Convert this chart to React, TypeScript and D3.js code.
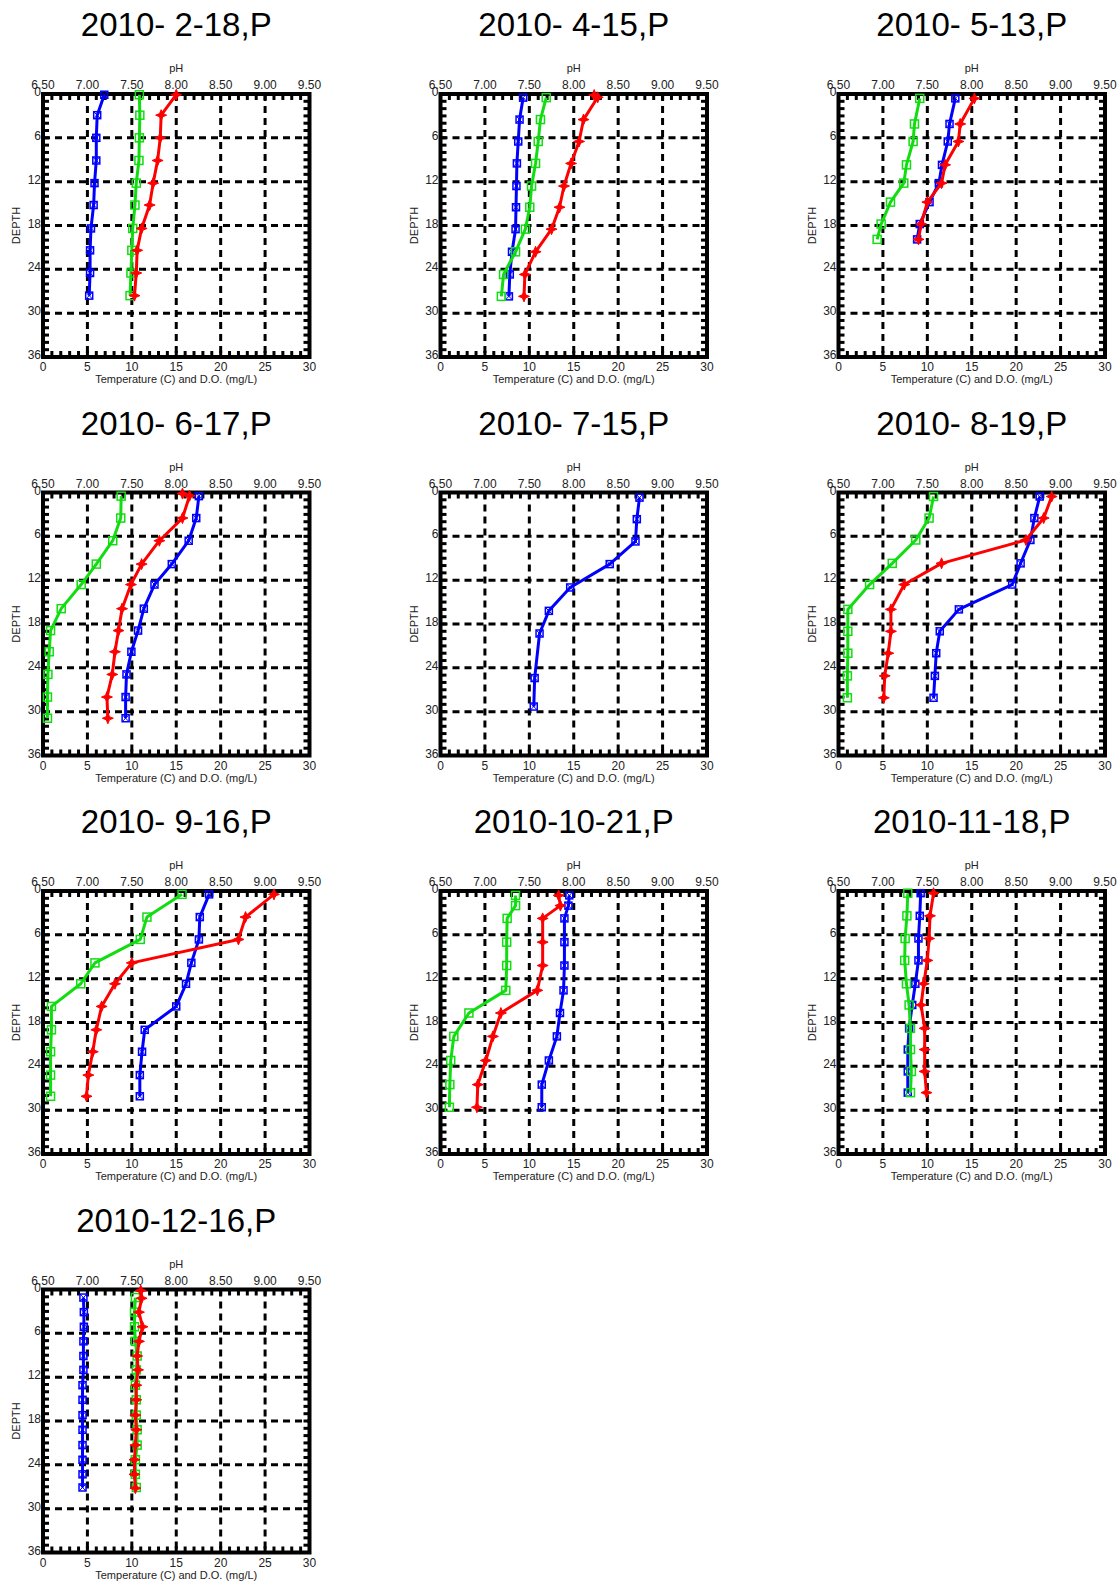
import React from "react";
import * as d3 from "d3";

// ---------- DATA ----------
const titles = [
  "2010- 2-18,P", "2010- 4-15,P", "2010- 5-13,P",
  "2010- 6-17,P", "2010- 7-15,P", "2010- 8-19,P",
  "2010- 9-16,P", "2010-10-21,P", "2010-11-18,P",
  "2010-12-16,P",
];

const tempTicks = [0, 5, 10, 15, 20, 25, 30];
const phTicks = [6.5, 7.0, 7.5, 8.0, 8.5, 9.0, 9.5];
const depthTicks = [0, 6, 12, 18, 24, 30, 36];

// 2010-2-18
const feb_depth = [0.1, 2.9, 6.0, 9.1, 12.2, 15.2, 18.4, 21.4, 24.5, 27.6];
const feb_temp = [6.9, 6.1, 6.0, 6.0, 5.8, 5.7, 5.4, 5.3, 5.3, 5.2];
const feb_do = [10.85, 10.9, 10.85, 10.8, 10.5, 10.35, 10.1, 10.0, 9.9, 9.8];
const feb_ph = [8.0, 7.83, 7.82, 7.79, 7.74, 7.7, 7.61, 7.56, 7.55, 7.53];

// 2010-4-15
const apr_depth = [0.5, 3.5, 6.5, 9.5, 12.6, 15.5, 18.5, 21.6, 24.7, 27.7];
const apr_temp = [9.3, 8.9, 8.75, 8.6, 8.55, 8.5, 8.45, 8.05, 7.8, 7.7];
const apr_do = [11.9, 11.25, 11.0, 10.7, 10.25, 10.05, 9.55, 8.45, 7.1, 6.85];
const apr_ph_depth = [0.15, 0.45, 3.5, 6.5, 9.5, 12.6, 15.5, 18.5, 21.6, 24.7, 27.7];
const apr_ph = [8.23, 8.27, 8.11, 8.06, 7.97, 7.89, 7.84, 7.75, 7.57, 7.45, 7.44];

// 2010-5-13
const may_depth = [0.6, 4.1, 6.5, 9.7, 12.2, 14.8, 17.8, 19.9];
const may_temp = [13.15, 12.5, 12.3, 11.65, 11.3, 10.25, 9.15, 8.85];
const may_do = [9.15, 8.55, 8.4, 7.65, 7.35, 5.85, 4.8, 4.35];
const may_ph = [8.03, 7.87, 7.85, 7.7, 7.66, 7.5, 7.43, 7.4];

// 2010-6-17
const jun_depth = [0.5, 3.5, 6.6, 9.8, 12.6, 15.9, 18.9, 21.8, 24.9, 28.0, 30.9];
const jun_temp = [17.55, 17.25, 16.4, 14.5, 12.55, 11.35, 10.7, 9.95, 9.4, 9.3, 9.3];
const jun_do = [8.8, 8.75, 7.85, 6.0, 4.3, 2.05, 0.85, 0.7, 0.55, 0.5, 0.5];
const jun_ph_depth = [0.15, 0.45, 3.5, 6.6, 9.8, 12.6, 15.9, 18.9, 21.8, 24.9, 28.0, 30.9];
const jun_ph = [8.07, 8.15, 8.07, 7.81, 7.61, 7.49, 7.39, 7.35, 7.31, 7.28, 7.22, 7.23];

// 2010-7-15 (temperature only)
const jul_depth = [0.7, 3.65, 6.7, 9.8, 13.0, 16.2, 19.3, 25.4, 29.3];
const jul_temp = [22.4, 22.1, 21.95, 19.05, 14.6, 12.2, 11.15, 10.6, 10.5];

// 2010-8-19
const aug_depth = [0.55, 3.5, 6.5, 9.7, 12.6, 16.0, 19.0, 22.0, 25.1, 28.1];
const aug_temp = [22.65, 22.05, 21.6, 20.5, 19.55, 13.55, 11.4, 11.0, 10.85, 10.7];
const aug_do = [10.7, 10.2, 8.7, 6.05, 3.5, 1.05, 1.05, 1.05, 1.0, 1.0];
const aug_ph = [8.9, 8.81, 8.61, 7.66, 7.24, 7.09, 7.09, 7.06, 7.02, 7.01];

// 2010-9-16
const sep_depth = [0.46, 3.57, 6.63, 9.84, 12.7, 15.8, 19.0, 22.0, 25.2, 28.1];
const sep_temp = [18.7, 17.65, 17.55, 16.7, 16.1, 15.0, 11.45, 11.15, 10.9, 10.9];
const sep_do = [15.65, 11.7, 10.95, 5.85, 4.25, 0.95, 0.95, 0.85, 0.85, 0.85];
const sep_ph = [9.1, 8.78, 8.7, 7.5, 7.31, 7.16, 7.1, 7.06, 7.01, 6.99];

// 2010-10-21
const oct_depth = [0.6, 2.0, 3.75, 7.0, 10.2, 13.6, 16.7, 19.9, 23.2, 26.5, 29.6];
const oct_temp = [14.5, 14.4, 13.95, 13.95, 13.95, 13.85, 13.45, 13.1, 12.2, 11.4, 11.4];
const oct_do = [8.45, 8.45, 7.5, 7.45, 7.45, 7.35, 3.2, 1.5, 1.15, 1.05, 1.0];
const oct_ph = [7.83, 7.85, 7.65, 7.65, 7.65, 7.59, 7.18, 7.09, 7.01, 6.92, 6.91];

// 2010-11-18
const nov_depth = [0.3, 3.4, 6.5, 9.5, 12.7, 15.6, 18.8, 21.7, 24.7, 27.6];
const nov_temp = [9.25, 9.15, 9.0, 9.0, 8.65, 8.3, 7.95, 7.8, 7.8, 7.8];
const nov_do = [7.8, 7.7, 7.5, 7.45, 7.65, 7.95, 8.1, 8.1, 8.2, 8.1];
const nov_ph = [7.57, 7.53, 7.52, 7.5, 7.46, 7.43, 7.47, 7.47, 7.47, 7.49];

// 2010-12-16
const dec_depth = [1.1, 3.1, 5.1, 7.1, 9.1, 11.0, 13.1, 15.1, 17.2, 19.2, 21.3, 23.3, 25.3, 27.1];
const dec_temp = [4.55, 4.6, 4.6, 4.55, 4.55, 4.55, 4.45, 4.45, 4.45, 4.45, 4.45, 4.45, 4.45, 4.45];
const dec_do = [10.4, 10.3, 10.3, 10.4, 10.6, 10.5, 10.4, 10.5, 10.5, 10.6, 10.6, 10.4, 10.4, 10.5];
const dec_ph_depth = [0.15, 1.2, 3.1, 5.1, 7.1, 9.1, 11.0, 13.1, 15.1, 17.2, 19.2, 21.3, 23.3, 25.3, 27.2];
const dec_ph = [7.6, 7.61, 7.58, 7.62, 7.58, 7.56, 7.57, 7.55, 7.55, 7.54, 7.55, 7.54, 7.53, 7.53, 7.54];

type Series = { depth: number[]; values: number[] } | null;
type Panel = { title: string; temp: Series; dO: Series; ph: Series };

const panels: Panel[] = [
  { title: titles[0], temp: { depth: feb_depth, values: feb_temp }, dO: { depth: feb_depth, values: feb_do }, ph: { depth: feb_depth, values: feb_ph } },
  { title: titles[1], temp: { depth: apr_depth, values: apr_temp }, dO: { depth: apr_depth, values: apr_do }, ph: { depth: apr_ph_depth, values: apr_ph } },
  { title: titles[2], temp: { depth: may_depth, values: may_temp }, dO: { depth: may_depth, values: may_do }, ph: { depth: may_depth, values: may_ph } },
  { title: titles[3], temp: { depth: jun_depth, values: jun_temp }, dO: { depth: jun_depth, values: jun_do }, ph: { depth: jun_ph_depth, values: jun_ph } },
  { title: titles[4], temp: { depth: jul_depth, values: jul_temp }, dO: null, ph: null },
  { title: titles[5], temp: { depth: aug_depth, values: aug_temp }, dO: { depth: aug_depth, values: aug_do }, ph: { depth: aug_depth, values: aug_ph } },
  { title: titles[6], temp: { depth: sep_depth, values: sep_temp }, dO: { depth: sep_depth, values: sep_do }, ph: { depth: sep_depth, values: sep_ph } },
  { title: titles[7], temp: { depth: oct_depth, values: oct_temp }, dO: { depth: oct_depth, values: oct_do }, ph: { depth: oct_depth, values: oct_ph } },
  { title: titles[8], temp: { depth: nov_depth, values: nov_temp }, dO: { depth: nov_depth, values: nov_do }, ph: { depth: nov_depth, values: nov_ph } },
  { title: titles[9], temp: { depth: dec_depth, values: dec_temp }, dO: { depth: dec_depth, values: dec_do }, ph: { depth: dec_ph_depth, values: dec_ph } },
];

// ---------- LAYOUT ----------
const COL_X = [43, 440.5, 838.5];
const ROW_Y = [94, 492.5, 891, 1289.5];
const PW = 266.5;
const PH = 263;
const FONT = "'Liberation Sans', Arial, Helvetica, sans-serif";
const BLUE = "#0000ff";
const GREEN = "#11dd11";
const RED = "#ff0000";

const starPath = "M0,-5.5 L1.6,-1.6 L5.5,0 L1.6,1.6 L0,5.5 L-1.6,1.6 L-5.5,0 L-1.6,-1.6 Z";

function PanelChart({ p, left, top }: { p: Panel; left: number; top: number }) {
  const x = d3.scaleLinear().domain([0, 30]).range([left, left + PW]);
  const xPh = d3.scaleLinear().domain([6.5, 9.5]).range([left, left + PW]);
  const y = d3.scaleLinear().domain([0, 36]).range([top, top + PH]);
  const fmtPh = d3.format(".2f");
  const minorX = d3.range(1, 30);
  const minorY = d3.range(1, 36);
  const tl = 6;

  const line = (sx: (v: number) => number, s: NonNullable<Series>) =>
    d3.line<number>().x((v) => sx(v)).y((_, i) => y(s.depth[i]))(s.values) || "";

  const grid: React.ReactNode[] = [];
  tempTicks.slice(1, -1).forEach((t) =>
    grid.push(<line key={"gx" + t} x1={x(t)} x2={x(t)} y1={top} y2={top + PH} stroke="#000" strokeWidth={3} strokeDasharray="7,5" />)
  );
  depthTicks.slice(1, -1).forEach((t) =>
    grid.push(<line key={"gy" + t} x1={left} x2={left + PW} y1={y(t)} y2={y(t)} stroke="#000" strokeWidth={3} strokeDasharray="7,5" />)
  );

  const ticks: React.ReactNode[] = [];
  minorX.forEach((t) => {
    ticks.push(<line key={"tt" + t} x1={x(t)} x2={x(t)} y1={top} y2={top + tl} stroke="#000" strokeWidth={3} />);
    ticks.push(<line key={"tb" + t} x1={x(t)} x2={x(t)} y1={top + PH} y2={top + PH - tl} stroke="#000" strokeWidth={3} />);
  });
  minorY.forEach((t) => {
    ticks.push(<line key={"tl" + t} x1={left} x2={left + tl} y1={y(t)} y2={y(t)} stroke="#000" strokeWidth={3} />);
    ticks.push(<line key={"tr" + t} x1={left + PW} x2={left + PW - tl} y1={y(t)} y2={y(t)} stroke="#000" strokeWidth={3} />);
  });

  const cx = left + PW / 2;

  return (
    <g>
      <text x={cx} y={top - 58} textAnchor="middle" fontSize={33} fontFamily={FONT} fill="#000" style={{ whiteSpace: "pre" }}>
        {p.title}
      </text>
      <text x={cx} y={top - 22} textAnchor="middle" fontSize={11} fontFamily={FONT} fill="#222">pH</text>
      {phTicks.map((t) => (
        <text key={"ph" + t} x={xPh(t)} y={top - 5} textAnchor="middle" fontSize={12} fontFamily={FONT} fill="#222">{fmtPh(t)}</text>
      ))}
      {tempTicks.map((t) => (
        <text key={"xt" + t} x={x(t)} y={top + PH + 14} textAnchor="middle" fontSize={12} fontFamily={FONT} fill="#222">{t}</text>
      ))}
      <text x={cx} y={top + PH + 26} textAnchor="middle" fontSize={11} fontFamily={FONT} fill="#222">Temperature (C) and D.O. (mg/L)</text>
      {depthTicks.map((t) => (
        <text key={"yt" + t} x={left - 2} y={y(t) + 2} textAnchor="end" fontSize={12} fontFamily={FONT} fill="#222">{t}</text>
      ))}
      <text transform={`translate(${left - 23},${top + PH / 2}) rotate(-90)`} textAnchor="middle" fontSize={11} fontFamily={FONT} fill="#222">DEPTH</text>

      {grid}
      {ticks}
      <rect x={left} y={top} width={PW} height={PH} fill="none" stroke="#000" strokeWidth={4} />

      {p.temp && (
        <g>
          <path d={line(x, p.temp)} fill="none" stroke={BLUE} strokeWidth={3} strokeLinejoin="round" />
          {p.temp.values.map((v, i) => {
            const px = x(v), py = y(p.temp!.depth[i]);
            return (
              <g key={"bm" + i} transform={`translate(${px},${py})`}>
                <rect x={-3.5} y={-3.5} width={7} height={7} fill="none" stroke={BLUE} strokeWidth={1.5} />
                <path d="M-3.5,-3.5 L3.5,3.5 M3.5,-3.5 L-3.5,3.5" stroke={BLUE} strokeWidth={1} />
              </g>
            );
          })}
        </g>
      )}
      {p.dO && (
        <g>
          <path d={line(x, p.dO)} fill="none" stroke={GREEN} strokeWidth={3} strokeLinejoin="round" />
          {p.dO.values.map((v, i) => (
            <rect key={"gm" + i} x={x(v) - 4} y={y(p.dO!.depth[i]) - 4} width={8} height={8} fill="none" stroke={GREEN} strokeWidth={1.5} />
          ))}
        </g>
      )}
      {p.ph && (
        <g>
          <path d={line(xPh, p.ph)} fill="none" stroke={RED} strokeWidth={3} strokeLinejoin="round" />
          {p.ph.values.map((v, i) => (
            <path key={"rm" + i} d={starPath} transform={`translate(${xPh(v)},${y(p.ph!.depth[i])})`} fill={RED} stroke={RED} strokeWidth={1} />
          ))}
        </g>
      )}
    </g>
  );
}

export default function App() {
  return (
    <div style={{ position: "absolute", left: 0, top: 0, width: 1120, height: 1589, background: "#fff" }}>
      <svg width={1120} height={1589} viewBox="0 0 1120 1589" style={{ display: "block" }}>
        <rect x={0} y={0} width={1120} height={1589} fill="#fff" />
        {panels.map((p, i) => (
          <PanelChart key={i} p={p} left={COL_X[i % 3]} top={ROW_Y[Math.floor(i / 3)]} />
        ))}
      </svg>
    </div>
  );
}
